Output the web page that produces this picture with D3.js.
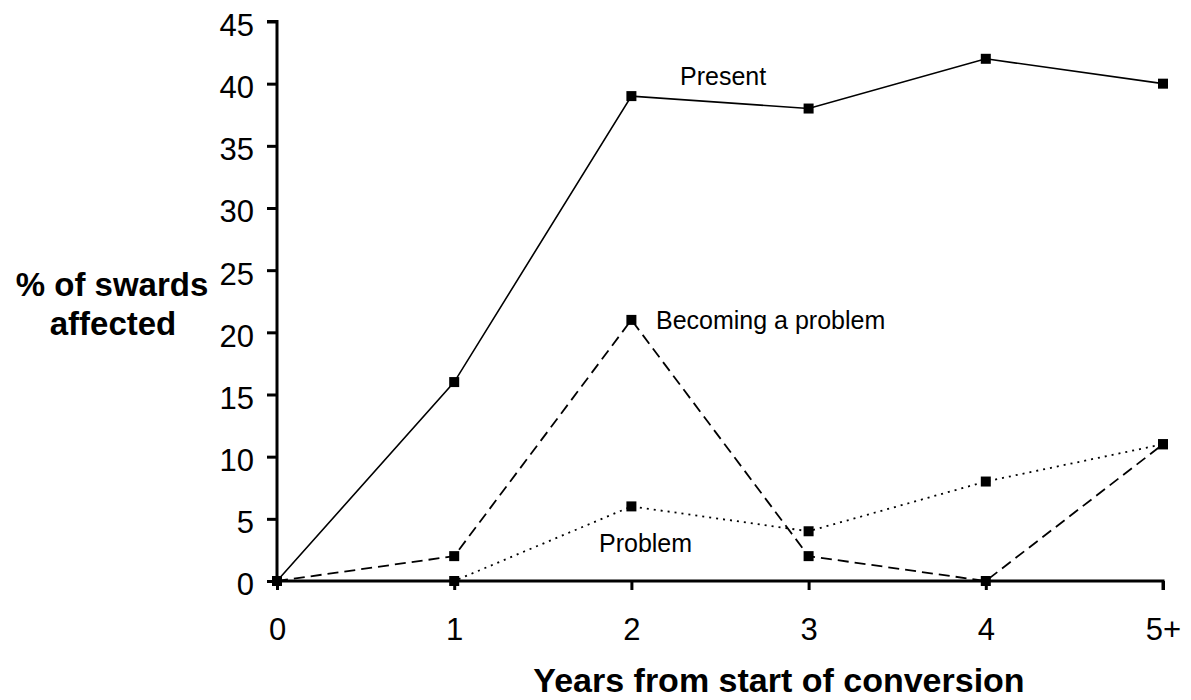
<!DOCTYPE html>
<html><head><meta charset="utf-8">
<script src="https://cdn.jsdelivr.net/npm/d3@7/dist/d3.min.js"></script>
<style>body{margin:0;background:#fff}svg{display:block;font-family:"Liberation Sans",Arial,sans-serif}</style>
</head><body><svg id="c" width="1191" height="700"></svg>
<script>
const categories = ["0","1","2","3","4","5+"];
const present = [0,16,39,38,42,40];
const becoming = [0,2,21,2,0,11];
const problem = [0,0,6,4,8,11];
const yTicks = [0,5,10,15,20,25,30,35,40,45];

const svg = d3.select("#c");
const x = d3.scalePoint().domain(categories).range([277,1163]);
const y = d3.scaleLinear().domain([0,45]).range([581,21.5]);

// axes
const yAxis = svg.append("g").attr("transform","translate(277,0)")
  .call(d3.axisLeft(y).tickValues(yTicks).tickSize(10).tickPadding(13));
const xAxis = svg.append("g").attr("transform","translate(0,581)")
  .call(d3.axisBottom(x).tickSize(9).tickPadding(28));
[yAxis,xAxis].forEach(a=>{
  a.select(".domain").attr("stroke","#000").attr("stroke-width",3);
  a.selectAll(".tick line").attr("stroke","#000").attr("stroke-width",3);
  a.selectAll(".tick text").attr("font-size",31).attr("fill","#000").attr("font-family","Liberation Sans, Arial, sans-serif");
});
yAxis.select(".domain").attr("d","M-10,"+y(45)+"H0V"+y(0));
xAxis.select(".domain").attr("d","M"+x("0")+",0H"+x("5+")+"V9");
yAxis.selectAll(".tick text").attr("dy","0.45em");

const series = [
  {vals:present, dash:null, w:1.6},
  {vals:becoming, dash:"11,6", w:1.8},
  {vals:problem, dash:"2,5", w:1.8}
];
const line = d3.line().x((d,i)=>x(categories[i])).y(d=>y(d));
series.forEach(s=>{
  svg.append("path").attr("d",line(s.vals)).attr("fill","none").attr("stroke","#000")
    .attr("stroke-width",s.w).attr("stroke-dasharray",s.dash);
});
series.forEach(s=>{
  svg.append("g").selectAll("rect").data(s.vals).join("rect")
    .attr("x",(d,i)=>x(categories[i])-5).attr("y",d=>y(d)-5)
    .attr("width",10).attr("height",10).attr("fill","#000");
});

// series labels
svg.append("text").attr("x",680).attr("y",85).attr("font-size",25).text("Present");
svg.append("text").attr("x",656).attr("y",329).attr("font-size",25).text("Becoming a problem");
svg.append("text").attr("x",599).attr("y",552).attr("font-size",25).text("Problem");

// axis titles
svg.append("text").attr("x",779).attr("y",692).attr("text-anchor","middle")
  .attr("font-size",34).attr("font-weight","bold").text("Years from start of conversion");
const yt = svg.append("text").attr("text-anchor","middle").attr("font-size",33).attr("font-weight","bold");
yt.append("tspan").attr("x",112).attr("y",296).text("% of swards");
yt.append("tspan").attr("x",113).attr("y",335).text("affected");
</script></body></html>
